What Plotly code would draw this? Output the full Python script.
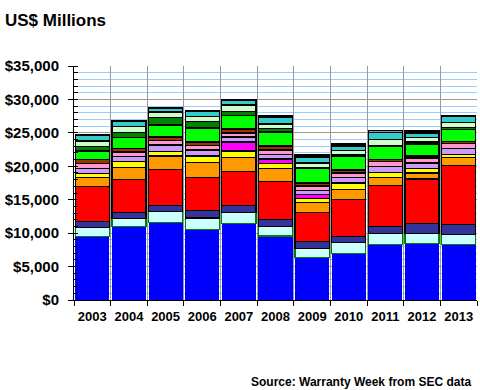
import plotly.graph_objects as go

years = ["2003", "2004", "2005", "2006", "2007", "2008", "2009", "2010", "2011", "2012", "2013"]

s_blue      = [9470, 10970, 11570, 10570, 11470, 9570, 6380, 6980, 8330, 8480, 8330]
s_lightcyan = [1400, 1200, 1700, 1700, 1600, 1450, 1350, 1600, 1600, 1500, 1500]
s_slate     = [900, 950, 900, 1150, 1100, 1050, 1000, 900, 1100, 1500, 1500]
s_red       = [5200, 4900, 5400, 4950, 5100, 5700, 4400, 5600, 6100, 6600, 8800]
s_orange    = [1400, 1750, 1950, 2200, 2050, 1900, 1500, 1500, 1200, 900, 1150]
s_yellow    = [600, 950, 700, 950, 950, 750, 600, 900, 750, 650, 500]
s_magenta   = [0, 0, 0, 0, 1350, 650, 550, 0, 0, 0, 0]
s_lavender  = [700, 750, 950, 900, 750, 700, 650, 850, 900, 850, 850]
s_pink      = [700, 650, 700, 650, 600, 650, 600, 650, 750, 750, 800]
s_brown     = [600, 550, 500, 550, 600, 600, 450, 450, 300, 300, 300]
s_green     = [1300, 1650, 1800, 2100, 2050, 2100, 2150, 2000, 1950, 1800, 1800]
s_darkgreen = [700, 750, 1150, 1000, 600, 500, 100, 250, 150, 300, 250]
s_palegreen = [800, 900, 800, 750, 950, 700, 750, 650, 850, 650, 800]
s_teal      = [800, 800, 550, 800, 650, 1000, 900, 700, 1100, 700, 850]
s_gray      = [100, 100, 100, 100, 200, 200, 300, 300, 300, 300, 200]

series = [
    ("Blue", s_blue, "#0000FF", "#0000FF", 0),
    ("Light cyan", s_lightcyan, "#CCFFFF", "#008000", 1.3),
    ("Slate", s_slate, "#333399", "#000000", 1.3),
    ("Red", s_red, "#FF0000", "#000000", 1.3),
    ("Orange", s_orange, "#FF9900", "#000000", 1.3),
    ("Yellow", s_yellow, "#FFFF00", "#000000", 1.3),
    ("Magenta", s_magenta, "#FF00FF", "#000000", 1.3),
    ("Lavender", s_lavender, "#CC99FF", "#000000", 1.3),
    ("Pink", s_pink, "#FF99CC", "#000000", 1.3),
    ("Brown", s_brown, "#993300", "#000000", 1.3),
    ("Green", s_green, "#00FF00", "#000000", 1.3),
    ("Dark green", s_darkgreen, "#008000", "#000000", 1.3),
    ("Pale green", s_palegreen, "#CCFFCC", "#000000", 1.3),
    ("Teal", s_teal, "#33CCCC", "#000000", 1.3),
    ("Gray", s_gray, "#969696", "#000000", 1.3),
]

FONT = "Arial, 'Liberation Sans', sans-serif"

fig = go.Figure()
for name, vals, col, lc, lw in series:
    fig.add_trace(go.Bar(
        x=years, y=vals, name=name,
        marker=dict(color=col, line=dict(color=lc, width=lw)),
        showlegend=False,
    ))

fig.update_layout(
    barmode="stack",
    bargap=0.07,
    width=480, height=390,
    margin=dict(l=73.5, r=3, t=66, b=90, autoexpand=False),
    plot_bgcolor="white", paper_bgcolor="white",
    font=dict(family=FONT, color="black"),
    title=dict(text="<b>US$ Millions</b>", font=dict(size=17, family=FONT, color="black"),
               xref="container", yref="container", x=5/480, xanchor="left",
               y=1 - 20/390, yanchor="middle", automargin=False),
    annotations=[dict(
        text="<b>Source: Warranty Week from SEC data</b>",
        xref="paper", yref="paper", x=1, y=0, xanchor="right", yanchor="middle",
        xshift=-4, yshift=-82, showarrow=False,
        font=dict(size=12, family=FONT, color="black"),
    )],
)

fig.update_yaxes(
    range=[0, 35000],
    automargin=False,
    tickvals=[0, 5000, 10000, 15000, 20000, 25000, 30000, 35000],
    ticktext=["$0", "$5,000", "$10,000", "$15,000", "$20,000", "$25,000", "$30,000", "$35,000"],
    tickfont=dict(size=15, family=FONT, color="black", weight="bold"),
    showline=True, linecolor="black", linewidth=1,
    ticks="outside", ticklen=5, tickcolor="black", tickwidth=1,
    ticklabelstandoff=6,
    showgrid=True, gridcolor="#999999", gridwidth=1,
    zeroline=False,
    minor=dict(dtick=1000, showgrid=True, gridcolor="#99CCFF", gridwidth=1,
               ticks="inside", ticklen=4, tickcolor="black"),
)

fig.update_xaxes(
    type="category",
    automargin=False,
    tickangle=0,
    tickson="boundaries",
    showline=True, linecolor="black", linewidth=1,
    ticks="outside", ticklen=5, tickcolor="black",
    showgrid=True, gridcolor="#999999", gridwidth=1,
    tickfont=dict(size=13, family=FONT, color="black", weight="bold"),
    ticklabelstandoff=4,
)

fig.write_html("out.html", config={"displayModeBar": False},
               post_script="document.body.style.margin='0';")
